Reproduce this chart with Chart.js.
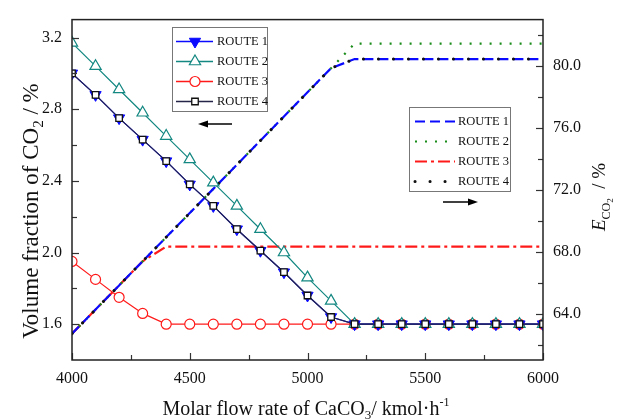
<!DOCTYPE html>
<html><head><meta charset="utf-8">
<script src="https://cdn.jsdelivr.net/npm/chart.js@4.4.1/dist/chart.umd.min.js"></script>
<style>html,body{margin:0;padding:0;background:#fff;}#wrap{width:618px;height:420px;}</style>
</head><body><div id="wrap"><canvas id="c" width="618" height="420"></canvas></div>
<script>
// ---- data ----
const flowRates = [4000,4100,4200,4300,4400,4500,4600,4700,4800,4900,5000,5100,5200,5300,5400,5500,5600,5700,5800,5900,6000];
const route1Vol = [3.00,2.88,2.75,2.63,2.51,2.38,2.26,2.13,2.01,1.89,1.76,1.64,1.60,1.60,1.60,1.60,1.60,1.60,1.60,1.60,1.60];
const route2Vol = [3.17,3.04,2.91,2.78,2.65,2.52,2.39,2.26,2.13,2.00,1.86,1.73,1.60,1.60,1.60,1.60,1.60,1.60,1.60,1.60,1.60];
const route3Vol = [1.95,1.85,1.75,1.66,1.60,1.60,1.60,1.60,1.60,1.60,1.60,1.60,1.60,1.60,1.60,1.60,1.60,1.60,1.60,1.60,1.60];
const route4Vol = [3.00,2.88,2.75,2.63,2.51,2.38,2.26,2.13,2.01,1.89,1.76,1.64,1.60,1.60,1.60,1.60,1.60,1.60,1.60,1.60,1.60];
const route1E = [62.70,64.26,65.82,67.38,68.94,70.50,72.06,73.62,75.18,76.74,78.30,79.86,80.45,80.45,80.45,80.45,80.45,80.45,80.45,80.45,80.45];
const route2E = [62.70,64.26,65.82,67.38,68.94,70.50,72.06,73.62,75.18,76.74,78.30,79.86,81.45,81.45,81.45,81.45,81.45,81.45,81.45,81.45,81.45];
const route3E = [62.70,64.26,65.82,67.38,68.33,68.33,68.33,68.33,68.33,68.33,68.33,68.33,68.33,68.33,68.33,68.33,68.33,68.33,68.33,68.33,68.33];
const route4E = [62.70,64.26,65.82,67.38,68.94,70.50,72.06,73.62,75.18,76.74,78.30,79.86,80.45,80.45,80.45,80.45,80.45,80.45,80.45,80.45,80.45];
const seriesNames = ['ROUTE 1','ROUTE 2','ROUTE 3','ROUTE 4'];
// tick labels / tick marks
const xMajorTicks = [4000,4500,5000,5500,6000];
const xMinorTicks = [4250,4750,5250,5750];
const yLeftMajorTicks = [1.6,2.0,2.4,2.8,3.2];
const yLeftMinorTicks = [1.8,2.2,2.6,3.0];
const yRightMajorTicks = [64,68,72,76,80];
const yRightMinorTicks = [62,66,70,74,78,82];

const pts = arr => flowRates.map((x,i)=>({x:x,y:arr[i]}));
const SERIF = '"Liberation Serif","Times New Roman",serif';
const BLUE='#0a0aff', TEAL='#138781', RED='#ff1a1a', DARK='#25254a', GREEN='#1a8c1a', BLACK='#111';

const volSets = [
  {label:seriesNames[3], data:pts(route4Vol), yAxisID:'y', order:0, borderColor:DARK, borderWidth:1.2,
   pointStyle:'rect', pointRadius:4.6, pointBackgroundColor:'#fff', pointBorderColor:'#111', pointBorderWidth:1.3},
  {label:seriesNames[0], data:pts(route1Vol), yAxisID:'y', order:1, borderColor:BLUE, borderWidth:1.2,
   pointStyle:'triangle', pointRotation:180, pointRadius:6.5, pointBackgroundColor:BLUE, pointBorderColor:BLUE, pointBorderWidth:1},
  {label:seriesNames[1], data:pts(route2Vol), yAxisID:'y', order:2, borderColor:TEAL, borderWidth:1.2,
   pointStyle:'triangle', pointRadius:6.5, pointBackgroundColor:'#fff', pointBorderColor:TEAL, pointBorderWidth:1.2},
  {label:seriesNames[2], data:pts(route3Vol), yAxisID:'y', order:3, borderColor:RED, borderWidth:1.2,
   pointStyle:'circle', pointRadius:5, pointBackgroundColor:'#fff', pointBorderColor:RED, pointBorderWidth:1.2}
];
const eSets = [
  {label:seriesNames[3], data:pts(route4E), yAxisID:'y2', order:4, borderColor:BLACK, borderWidth:3,
   borderDash:[0.1,14.9], borderCapStyle:'round', pointRadius:0},
  {label:seriesNames[0], data:pts(route1E), yAxisID:'y2', order:5, borderColor:BLUE, borderWidth:2.2,
   borderDash:[10,5], pointRadius:0},
  {label:seriesNames[1], data:pts(route2E), yAxisID:'y2', order:6, borderColor:GREEN, borderWidth:2.2,
   borderDash:[2,8], pointRadius:0},
  {label:seriesNames[2], data:pts(route3E), yAxisID:'y2', order:7, borderColor:RED, borderWidth:2.2,
   borderDash:[12,4,3,4], pointRadius:0}
];

function drawMarker(ctx, style, x, y, r, fill, stroke, lw, rot){
  ctx.save(); ctx.translate(x,y); if(rot) ctx.rotate(rot*Math.PI/180);
  ctx.beginPath();
  if(style==='triangle'){
    ctx.moveTo(0,-r); ctx.lineTo(r*Math.sin(Math.PI*2/3), -r*Math.cos(Math.PI*2/3)); ctx.lineTo(-r*Math.sin(Math.PI*2/3), -r*Math.cos(Math.PI*2/3)); ctx.closePath(); }
  else if(style==='circle'){ ctx.arc(0,0,r,0,Math.PI*2); }
  else { const s=r/Math.SQRT2; ctx.rect(-s,-s,2*s,2*s); }
  ctx.fillStyle=fill; ctx.fill(); ctx.lineWidth=lw; ctx.strokeStyle=stroke; ctx.stroke();
  ctx.restore();
}
function drawArrow(ctx, x1, x2, y){
  ctx.save(); ctx.strokeStyle='#000'; ctx.fillStyle='#000'; ctx.lineWidth=1.5;
  const dir = Math.sign(x2-x1);
  ctx.beginPath(); ctx.moveTo(x1,y); ctx.lineTo(x2-dir*7,y); ctx.stroke();
  ctx.beginPath(); ctx.moveTo(x2,y); ctx.lineTo(x2-dir*10,y-3.5); ctx.lineTo(x2-dir*10,y+3.5); ctx.closePath(); ctx.fill();
  ctx.restore();
}
function textRuns(ctx, runs){
  let w=0; runs.forEach(r=>{ctx.font=(r[3]?'italic ':'')+r[1]+'px '+SERIF; w+=ctx.measureText(r[0]).width;}); return w;
}
function drawRuns(ctx, runs, x, y){
  runs.forEach(r=>{ctx.font=(r[3]?'italic ':'')+r[1]+'px '+SERIF; ctx.fillText(r[0], x, y+r[2]); x+=ctx.measureText(r[0]).width;});
}

const decor = {
  id:'decor',
  afterDatasetsDraw(chart){
    const ctx=chart.ctx, a=chart.chartArea, sx=chart.scales.x, yl=chart.scales.y, yr=chart.scales.y2;
    ctx.save();
    ctx.strokeStyle='#333'; ctx.lineWidth=1.2;
    const tk=(x1,y1,x2,y2)=>{ctx.beginPath();ctx.moveTo(x1,y1);ctx.lineTo(x2,y2);ctx.stroke();};
    xMajorTicks.forEach(v=>{const p=Math.round(sx.getPixelForValue(v))+0.5; tk(p,a.bottom,p,a.bottom-7);});
    xMinorTicks.forEach(v=>{const p=Math.round(sx.getPixelForValue(v))+0.5; tk(p,a.bottom,p,a.bottom-5);});
    yLeftMajorTicks.forEach(v=>{const p=Math.round(yl.getPixelForValue(v))+0.5; tk(a.left,p,a.left+7,p);});
    yLeftMinorTicks.forEach(v=>{const p=Math.round(yl.getPixelForValue(v))+0.5; tk(a.left,p,a.left+5,p);});
    yRightMajorTicks.forEach(v=>{const p=Math.round(yr.getPixelForValue(v))+0.5; tk(a.right,p,a.right-7,p);});
    yRightMinorTicks.forEach(v=>{const p=Math.round(yr.getPixelForValue(v))+0.5; tk(a.right,p,a.right-5,p);});
    ctx.lineWidth=1.5; ctx.strokeStyle='#222';
    ctx.strokeRect(a.left, a.top, a.right-a.left, a.bottom-a.top);

    // legend 1
    ctx.lineWidth=1; ctx.strokeStyle='#777'; ctx.fillStyle='#fff';
    ctx.fillRect(172.5,27.5,95,84); ctx.strokeRect(172.5,27.5,95,84);
    const l1 = [volSets[1], volSets[2], volSets[3], volSets[0]];
    ctx.textBaseline='middle'; ctx.textAlign='left';
    l1.forEach((d,i)=>{
      const y=41.5+i*20;
      ctx.strokeStyle=d.borderColor; ctx.lineWidth=1.3; ctx.setLineDash([]);
      ctx.beginPath(); ctx.moveTo(176,y); ctx.lineTo(213,y); ctx.stroke();
      drawMarker(ctx, d.pointStyle, 195, y, d.pointRadius, d.pointBackgroundColor, d.pointBorderColor, d.pointBorderWidth, d.pointRotation||0);
      ctx.fillStyle='#111'; ctx.font='12.5px '+SERIF; ctx.fillText(d.label, 217, y+0.5);
    });
    // legend 2
    ctx.lineWidth=1; ctx.strokeStyle='#777'; ctx.fillStyle='#fff';
    ctx.fillRect(409.5,107.5,101,84); ctx.strokeRect(409.5,107.5,101,84);
    const l2 = [eSets[1], eSets[2], eSets[3], eSets[0]];
    l2.forEach((d,i)=>{
      const y=121.5+i*20;
      ctx.strokeStyle=d.borderColor; ctx.lineWidth=d.borderWidth; ctx.setLineDash(d.borderDash); ctx.lineCap=d.borderCapStyle||'butt';
      ctx.beginPath(); ctx.moveTo(415,y); ctx.lineTo(455,y); ctx.stroke();
      ctx.setLineDash([]); ctx.lineCap='butt';
      ctx.fillStyle='#111'; ctx.font='12.5px '+SERIF; ctx.fillText(d.label, 458, y+0.5);
    });
    drawArrow(ctx, 232, 198, 124);
    drawArrow(ctx, 443, 478, 202);

    // axis titles
    ctx.fillStyle='#111'; ctx.textBaseline='alphabetic';
    const xt=[['Molar flow rate of CaCO',20,0],['3',13,4],['/ kmol\u00b7h',20,0],['-1',12,-9]];
    let w=textRuns(ctx,xt); drawRuns(ctx, xt, 306-w/2, 415);
    const lt=[['Volume fraction of CO',23,0],['2',15,5],[' / %',23,0]];
    ctx.save(); ctx.translate(38,211); ctx.rotate(-Math.PI/2);
    w=textRuns(ctx,lt); drawRuns(ctx, lt, -w/2, 0); ctx.restore();
    const rt=[['E',19,0,true],['CO',12,5],['2',9,8],['  / %',19,0]];
    ctx.save(); ctx.translate(605,197); ctx.rotate(-Math.PI/2);
    w=textRuns(ctx,rt); drawRuns(ctx, rt, -w/2, 0); ctx.restore();
    ctx.restore();
  }
};

const tickFont = {family:SERIF, size:16};
new Chart(document.getElementById('c'), {
  type:'line',
  data:{datasets:[...volSets, ...eSets]},
  options:{
    responsive:false, animation:false, devicePixelRatio:1,
    layout:{padding:{top:15,left:0,right:0,bottom:0}},
    elements:{line:{tension:0}},
    plugins:{legend:{display:false}, tooltip:{enabled:false}},
    scales:{
      x:{type:'linear', min:4000, max:6000,
         afterBuildTicks:s=>{s.ticks=xMajorTicks.map(v=>({value:v}));},
         afterFit:s=>{s.height=60;},
         ticks:{font:tickFont, color:'#111', padding:9, maxRotation:0, autoSkip:false, callback:v=>String(v)},
         grid:{display:false, drawTicks:false}, border:{display:false}},
      y:{position:'left', min:1.4, max:3.3,
         afterBuildTicks:s=>{s.ticks=yLeftMajorTicks.map(v=>({value:v}));},
         afterFit:s=>{s.width=72;},
         ticks:{font:tickFont, color:'#111', padding:10, autoSkip:false, callback:v=>Number(v).toFixed(1)},
         grid:{display:false, drawTicks:false}, border:{display:false}},
      y2:{position:'right', min:61, max:83,
         afterBuildTicks:s=>{s.ticks=yRightMajorTicks.map(v=>({value:v}));},
         afterFit:s=>{s.width=75;},
         ticks:{font:tickFont, color:'#111', padding:10, autoSkip:false, callback:v=>Number(v).toFixed(1)},
         grid:{display:false, drawTicks:false}, border:{display:false}}
    }
  },
  plugins:[decor]
});
</script>
</body></html>
